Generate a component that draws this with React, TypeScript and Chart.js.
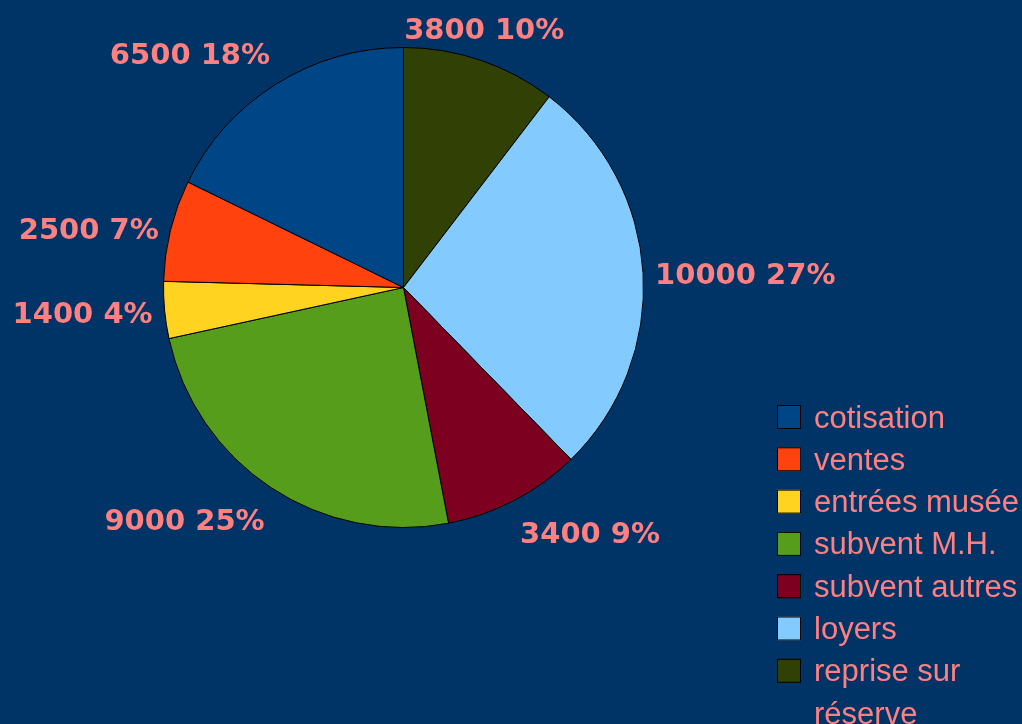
import React, { useEffect, useRef } from "react";
import { Chart, registerables } from "chart.js";

Chart.register(...registerables);

const categories = ["cotisation", "ventes", "entrées musée", "subvent M.H.", "subvent autres", "loyers", "reprise sur réserve"];
const legendLines = [["cotisation"], ["ventes"], ["entrées musée"], ["subvent M.H."], ["subvent autres"], ["loyers"], ["reprise sur", "réserve"]];
const values = [6500, 2500, 1400, 9000, 3400, 10000, 3800];
const colors = ["#004586", "#ff420e", "#ffd320", "#579d1c", "#7e0021", "#83caff", "#314004"];

const BG = "#003366";
const TEXT = "#ff8080";

export default function App() {
  const ref = useRef<HTMLCanvasElement | null>(null);

  useEffect(() => {
    document.body.style.margin = "0";
    const canvas = ref.current;
    if (!canvas) return;
    const total = values.reduce((a, b) => a + b, 0);
    // slices go counter-clockwise from the top: reverse for Chart.js (clockwise)
    const order = values.map((_, i) => i).reverse();

    const labelPlugin = {
      id: "sliceLabels",
      afterDatasetsDraw(chart: any) {
        const ctx = chart.ctx;
        const meta = chart.getDatasetMeta(0);
        ctx.save();
        ctx.font = "bold 29px 'DejaVu Sans'";
        ctx.fillStyle = TEXT;
        meta.data.forEach((arc: any, j: number) => {
          const idx = order[j];
          const p = arc.getProps(["x", "y", "startAngle", "endAngle", "outerRadius"], true);
          const a = (p.startAngle + p.endAngle) / 2;
          const r = p.outerRadius + 12;
          const px = p.x + Math.cos(a) * r;
          const py = p.y + Math.sin(a) * r;
          let deg = ((a * 180) / Math.PI + 90) % 360;
          if (deg < 0) deg += 360;
          const oct = Math.round(deg / 45) % 8;
          const hAlign = [0, 1, 1, 1, 0, -1, -1, -1][oct];
          const vAlign = [-1, -1, 0, 1, 1, 1, 0, -1][oct];
          const pct = Math.round((values[idx] / total) * 100);
          const txt = `${values[idx]} ${pct}%`;
          ctx.textAlign = hAlign === 0 ? "center" : hAlign > 0 ? "left" : "right";
          ctx.textBaseline = "middle";
          ctx.fillText(txt, px, py + vAlign * 21 + 4);
        });
        ctx.restore();
      },
    };

    const legendPlugin = {
      id: "customLegend",
      afterDraw(chart: any) {
        const ctx = chart.ctx;
        ctx.save();
        ctx.font = "31px 'Liberation Sans'";
        ctx.textBaseline = "middle";
        ctx.textAlign = "left";
        const x0 = 777;
        const y0 = 405;
        const step = 42.3;
        const box = 24;
        categories.forEach((_, i) => {
          const y = y0 + i * step;
          ctx.fillStyle = colors[i];
          ctx.fillRect(x0, y, box, box);
          ctx.strokeStyle = "#000000";
          ctx.lineWidth = 1;
          ctx.strokeRect(x0 + 0.5, y + 0.5, box - 1, box - 1);
          ctx.fillStyle = TEXT;
          legendLines[i].forEach((line, k) => {
            ctx.fillText(line, x0 + 37, y + box / 2 + 2 + k * step);
          });
        });
        ctx.restore();
      },
    };

    const chart = new Chart(canvas, {
      type: "pie",
      data: {
        labels: order.map((i) => categories[i]),
        datasets: [
          {
            data: order.map((i) => values[i]),
            backgroundColor: order.map((i) => colors[i]),
            borderColor: "#000000",
            borderWidth: 1,
          },
        ],
      },
      options: {
        responsive: true,
        maintainAspectRatio: false,
        animation: false,
        layout: { padding: { left: 163, right: 378, top: 47, bottom: 196 } },
        plugins: {
          legend: { display: false },
          tooltip: { enabled: false },
        },
      },
      plugins: [labelPlugin, legendPlugin],
    });
    return () => chart.destroy();
  }, []);

  return (
    <div style={{ position: "relative", width: 1022, height: 724, background: BG }}>
      <canvas ref={ref} />
    </div>
  );
}
